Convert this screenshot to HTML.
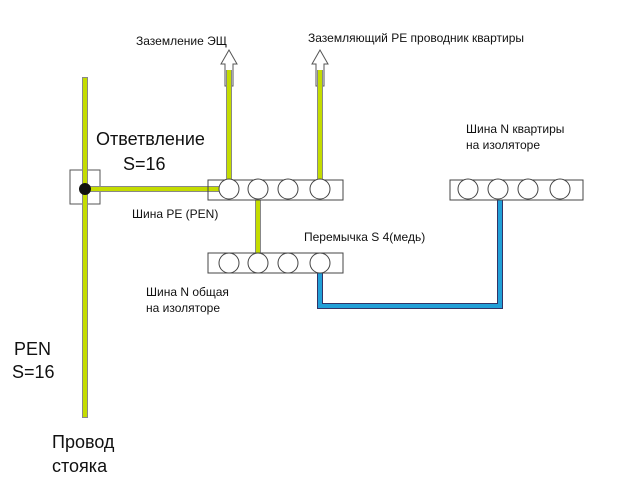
<!DOCTYPE html>
<html><head><meta charset="utf-8"><style>
body{margin:0;background:#fff;}
svg{display:block;font-family:"Liberation Sans",sans-serif;}
</style></head><body>
<svg width="636" height="482" viewBox="0 0 636 482" xmlns="http://www.w3.org/2000/svg">
<rect width="636" height="482" fill="#fff"/>
<rect x="70" y="170" width="30" height="34" fill="#fff" stroke="#555" stroke-width="1"/>
<!-- arrows -->
<path d="M229 50 L221 64 H225 V86 H233 V64 H237 Z" fill="#fff" stroke="#555" stroke-width="1"/>
<path d="M320 50 L312 64 H316 V86 H324 V64 H328 Z" fill="#fff" stroke="#555" stroke-width="1"/>
<g fill="none" stroke="#888" stroke-width="6">
<path d="M85 77 V418"/>
<path d="M88 189 H222"/>
<path d="M229 180 V70"/>
<path d="M320 180 V70"/>
<path d="M258 200 V253"/>
</g>
<g fill="none" stroke="#c4dc00" stroke-width="4">
<path d="M85 78 V417"/>
<path d="M88 189 H222"/>
<path d="M229 180 V70"/>
<path d="M320 180 V70"/>
<path d="M258 200 V253"/>
</g>
<path d="M320 273 V306 H500 V200" fill="none" stroke="#336" stroke-width="6"/>
<path d="M320 273 V306 H500 V200" fill="none" stroke="#22a0d8" stroke-width="4"/>
<circle cx="85" cy="189" r="6" fill="#111"/>
<g fill="#fff" stroke="#444" stroke-width="1">
<rect x="208" y="180" width="135" height="20" fill="none"/>
<rect x="208" y="253" width="135" height="20" fill="none"/>
<rect x="450" y="180" width="133" height="20" fill="none"/>
<circle cx="229" cy="189" r="10"/><circle cx="258" cy="189" r="10"/><circle cx="288" cy="189" r="10"/><circle cx="320" cy="189" r="10"/>
<circle cx="229" cy="263" r="10"/><circle cx="258" cy="263" r="10"/><circle cx="288" cy="263" r="10"/><circle cx="320" cy="263" r="10"/>
<circle cx="468" cy="189" r="10"/><circle cx="498" cy="189" r="10"/><circle cx="528" cy="189" r="10"/><circle cx="560" cy="189" r="10"/>
</g>
<g fill="#111" font-size="12">
<text x="136" y="45">Заземление ЭЩ</text>
<text x="308" y="42">Заземляющий PE проводник квартиры</text>
<text x="132" y="218">Шина PE (PEN)</text>
<text x="304" y="241">Перемычка S 4(медь)</text>
<text x="146" y="296">Шина N общая</text>
<text x="146" y="312">на изоляторе</text>
<text x="466" y="133">Шина N квартиры</text>
<text x="466" y="149">на изоляторе</text>
</g>
<g fill="#111" font-size="18">
<text x="96" y="145">Ответвление</text>
<text x="123" y="170">S=16</text>
<text x="14" y="355">PEN</text>
<text x="12" y="378">S=16</text>
<text x="52" y="448">Провод</text>
<text x="52" y="472">стояка</text>
</g>
</svg>
</body></html>
